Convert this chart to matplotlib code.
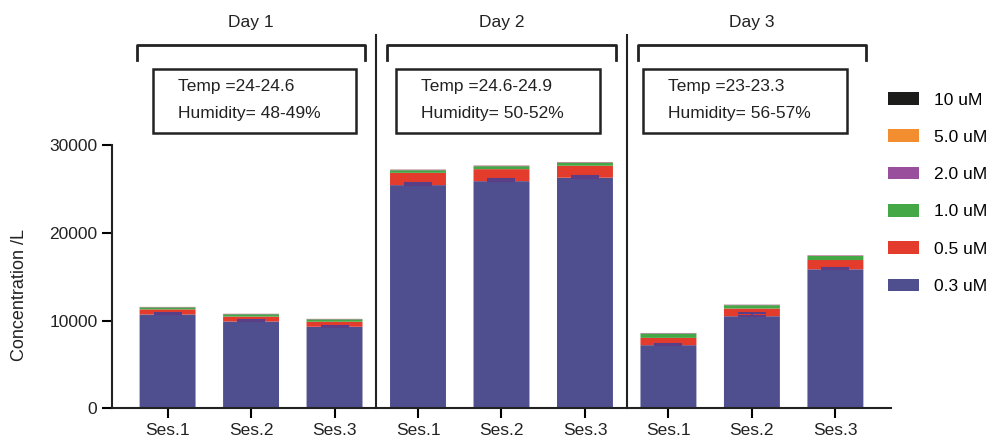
import matplotlib
matplotlib.use('Agg')
import matplotlib.pyplot as plt
from matplotlib.patches import Patch, Rectangle
import numpy as np

plt.rcParams['font.family'] = ['Liberation Sans', 'DejaVu Sans']

# data (counts per litre, stacked by particle size)
sessions = ['Ses.1', 'Ses.2', 'Ses.3'] * 3
days = ['Day 1', 'Day 2', 'Day 3']
temps = ['Temp =24-24.6', 'Temp =24.6-24.9', 'Temp =23-23.3']
humids = ['Humidity= 48-49%', 'Humidity= 50-52%', 'Humidity= 56-57%']

sizes = ['0.3 uM', '0.5 uM', '1.0 uM', '2.0 uM', '5.0 uM', '10 uM']
c03 = [10700, 9900, 9300, 25450, 25900, 26300, 7200, 10500, 15850]
c05 = [580, 560, 570, 1400, 1370, 1360, 830, 880, 1060]
c10 = [230, 270, 280, 300, 340, 350, 500, 380, 460]
c20 = [40, 40, 40, 60, 60, 60, 50, 50, 60]
c50 = [10, 10, 10, 15, 15, 15, 10, 10, 15]
c100 = [2, 2, 2, 2, 2, 2, 2, 2, 2]
err03 = [120, 120, 110, 200, 230, 230, 190, 380, 120]

colors = ['#4f4e8f', '#e33b2c', '#45a846', '#9a4f9c', '#f28e2f', '#1c1c1a']
series = [c03, c05, c10, c20, c50, c100]

fig = plt.figure(figsize=(9.9, 4.41), dpi=100)
ax = fig.add_axes([0.1131, 0.0741, 0.7869, 0.9259])

x = np.arange(len(sessions))
bottom = np.zeros(len(sessions))
handles = []
for vals, col, lab in zip(series, colors, sizes):
    ax.bar(x, vals, width=0.67, bottom=bottom, color=col, label=lab,
           linewidth=0, snap=False, zorder=2)
    handles.append(Patch(facecolor=col, label=lab))
    bottom += np.array(vals)

# upper error bars for the 0.3 uM segment
ax.errorbar(x, c03, yerr=[np.zeros(len(x)), err03], fmt='none',
            ecolor='#5a3f86', elinewidth=1.5, capsize=10, capthick=1.5, zorder=3)

ax.set_xlim(-0.666, 8.666)
ax.set_ylim(0, 46557)
ax.set_xticks(x)
ax.set_xticklabels(sessions, fontsize=12.5, color='#222222')
ax.set_yticks([0, 10000, 20000, 30000])
ax.tick_params(axis='y', labelsize=12.5, labelcolor='#222222', width=1.5, length=7)
ax.tick_params(axis='x', width=1.5, length=7)
ax.set_ylabel('Concentration /L', fontsize=13, color='#222222')
ax.yaxis.set_label_coords(-0.108, 0.277)

for side in ['top', 'right']:
    ax.spines[side].set_visible(False)
for side in ['left', 'bottom']:
    ax.spines[side].set_linewidth(1.5)
    ax.spines[side].set_color('#222222')
ax.spines['left'].set_bounds(0, 30000)

# day dividers
for xd in [2.5, 5.5]:
    ax.plot([xd, xd], [0, 42570], color='#222222', lw=1.5, clip_on=False)

# brackets, day labels and condition boxes
box_left = [-0.18, 2.74, 5.70]
for i, c in enumerate([1, 4, 7]):
    ax.plot([c - 1.37, c - 1.37, c + 1.37, c + 1.37], [39700, 41430, 41430, 39700],
            color='#222222', lw=2, clip_on=False)
    ax.text(c, 44000, days[i], ha='center', va='center', fontsize=12.5, color='#222222')
    ax.add_patch(Rectangle((box_left[i], 31400), 2.44, 7300, fill=False,
                           edgecolor='#222222', lw=1.8, clip_on=False))
    ax.text(box_left[i] + 0.3, 36670, temps[i], ha='left', va='center',
            fontsize=12.5, color='#222222')
    ax.text(box_left[i] + 0.3, 33640, humids[i], ha='left', va='center',
            fontsize=12.5, color='#222222')

fig.legend(handles=handles[::-1], loc='upper left', bbox_to_anchor=(0.897, 0.791),
           frameon=False, fontsize=12.5, handlelength=1.8, handleheight=0.75,
           handletextpad=0.85, labelspacing=1.26, borderaxespad=0, borderpad=0)

plt.savefig('out.png', dpi=100)
